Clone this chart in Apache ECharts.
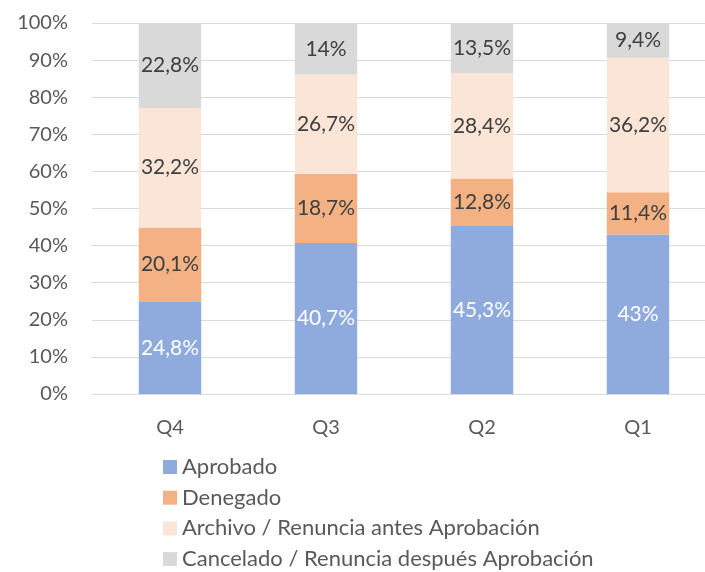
<!DOCTYPE html>
<html>
<head>
    <meta charset="utf-8">
    <title>ECharts</title>
    <script src="https://cdn.jsdelivr.net/npm/echarts@6/dist/echarts.min.js"></script>
    <style>
        html, body { margin: 0; padding: 0; background: #fff; }
    </style>
</head>
<body>
    <div id="main" style="width: 705px;height:572px;"></div>
    <script type="text/javascript">

// datos
var quarters = ['Q4', 'Q3', 'Q2', 'Q1'];
var aprobado = [24.8, 40.7, 45.3, 43];
var denegado = [20.1, 18.7, 12.8, 11.4];
var archivo = [32.2, 26.7, 28.4, 36.2];
var cancelado = [22.8, 14, 13.5, 9.4];
var yTicks = [0, 10, 20, 30, 40, 50, 60, 70, 80, 90, 100];

var fontName = 'Lato';

function pct(p) {
    return String(p.value).replace('.', ',') + '%';
}

function barSeries(name, data, color, labelColor) {
    return {
        name: name,
        type: 'bar',
        stack: 'total',
        barCategoryGap: '60%',
        data: data,
        itemStyle: { color: color },
        label: {
            show: true,
            position: 'inside',
            formatter: pct,
            color: labelColor,
            fontFamily: fontName,
            fontSize: 21
        }
    };
}

var myChart = echarts.init(document.getElementById('main'));

var option = {
    backgroundColor: '#ffffff',
    animation: false,
    textStyle: { fontFamily: fontName },
    grid: {
        left: 92,
        width: 624,
        top: 23,
        bottom: 178,
        outerBoundsMode: 'none'
    },
    legend: {
        orient: 'vertical',
        left: 163,
        top: 456,
        height: 200,
        padding: 0,
        itemWidth: 14,
        itemHeight: 14,
        itemGap: 8.7,
        icon: 'rect',
        textStyle: {
            color: '#595959',
            fontSize: 22,
            lineHeight: 20,
            fontFamily: fontName
        }
    },
    xAxis: {
        type: 'category',
        data: quarters,
        axisTick: { show: false },
        axisLine: { lineStyle: { color: '#d9d9d9', width: 1 } },
        axisLabel: {
            color: '#595959',
            fontSize: 20,
            margin: 24
        }
    },
    yAxis: {
        type: 'value',
        min: yTicks[0],
        max: yTicks[yTicks.length - 1],
        interval: 10,
        axisLine: { show: false },
        axisTick: { show: false },
        splitLine: { lineStyle: { color: '#d9d9d9', width: 1 } },
        axisLabel: {
            color: '#595959',
            fontSize: 20,
            margin: 24,
            formatter: '{value}%'
        }
    },
    series: [
        barSeries('Aprobado', aprobado, '#8faadc', '#ffffff'),
        barSeries('Denegado', denegado, '#f4b183', '#404040'),
        barSeries('Archivo / Renuncia antes Aprobación', archivo, '#fbe5d6', '#404040'),
        barSeries('Cancelado / Renuncia después Aprobación', cancelado, '#d9d9d9', '#404040')
    ]
};

myChart.setOption(option);

    </script>
</body>
</html>
